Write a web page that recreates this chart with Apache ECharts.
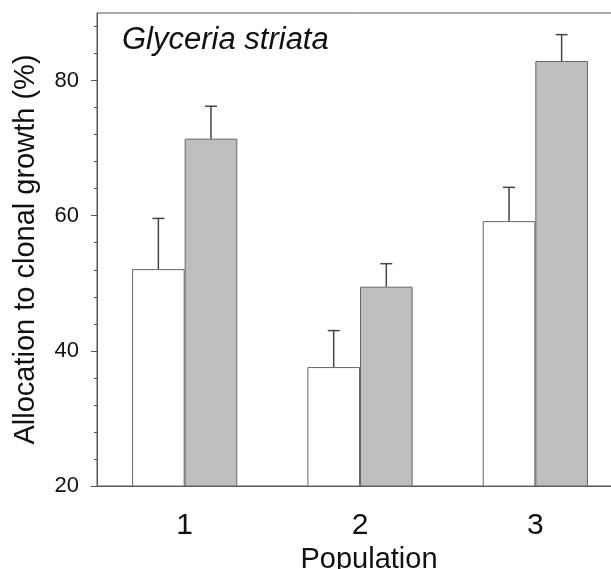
<!DOCTYPE html>
<html>
<head>
<meta charset="utf-8">
<script src="https://cdn.jsdelivr.net/npm/echarts@6/dist/echarts.min.js"></script>
<style>
  html, body { margin: 0; padding: 0; background: #fff; }
  #chart { width: 611px; height: 569px; }
</style>
</head>
<body>
<div id="chart"></div>
<script>
// data
const populations = ['1', '2', '3'];
const openMeans = [52.1, 37.6, 59.2];
const openErr = [7.5, 5.4, 5.0];
const shadedMeans = [71.4, 49.5, 82.9];
const shadedErr = [4.8, 3.4, 3.9];
const yMajorTicks = [20, 40, 60, 80];
const yMinorTicks = [24, 28, 32, 36, 44, 48, 52, 56, 64, 68, 72, 76, 84, 88];

const fontFamily = '"Liberation Sans", Arial, sans-serif';
const lineColor = '#555';

// error bar rows: [category index, mean, err, side]
const errData = [];
populations.forEach(function (p, i) {
    errData.push([i, openMeans[i], openErr[i], -1]);
    errData.push([i, shadedMeans[i], shadedErr[i], 1]);
});

const chart = echarts.init(document.getElementById('chart'));

const option = {
    animation: false,
    title: {
        text: 'Glyceria striata',
        left: 122,
        top: 25,
        padding: 0,
        textStyle: {
            fontFamily: fontFamily,
            fontStyle: 'italic',
            fontWeight: 'normal',
            fontSize: 31,
            color: '#111'
        }
    },
    grid: {
        left: 97,
        top: 13,
        width: 526,
        height: 473,
        outerBoundsMode: 'none',
        show: true,
        borderColor: lineColor,
        borderWidth: 1
    },
    xAxis: {
        type: 'category',
        data: populations,
        name: 'Population',
        nameLocation: 'middle',
        nameGap: 46,
        nameTextStyle: {
            fontFamily: fontFamily,
            fontSize: 29,
            color: '#111',
            padding: [0, 0, 0, 18]
        },
        axisLine: { lineStyle: { color: lineColor, width: 1 } },
        axisTick: { alignWithLabel: true, length: 5, lineStyle: { color: lineColor } },
        axisLabel: {
            margin: 25,
            fontFamily: fontFamily,
            fontSize: 30,
            color: '#111'
        },
        splitLine: { show: false }
    },
    yAxis: [
        {
            type: 'value',
            min: 20,
            max: 90,
            name: 'Allocation to clonal growth (%)',
            nameLocation: 'middle',
            nameGap: 57,
            nameTextStyle: {
                fontFamily: fontFamily,
                fontSize: 29,
                color: '#111'
            },
            axisLine: { show: true, lineStyle: { color: lineColor, width: 1 } },
            axisTick: {
                show: true,
                length: 6,
                customValues: yMajorTicks,
                lineStyle: { color: lineColor }
            },
            axisLabel: {
                margin: 18,
                customValues: yMajorTicks,
                fontFamily: fontFamily,
                fontSize: 22,
                color: '#111'
            },
            splitLine: { show: false }
        },
        {
            // minor ticks only
            type: 'value',
            min: 20,
            max: 90,
            position: 'left',
            axisLine: { show: false },
            axisTick: {
                show: true,
                length: 3,
                customValues: yMinorTicks,
                lineStyle: { color: lineColor }
            },
            axisLabel: { show: false },
            splitLine: { show: false }
        }
    ],
    series: [
        {
            name: 'open',
            type: 'bar',
            data: openMeans,
            barWidth: '30%',
            barGap: '0%',
            itemStyle: { color: '#ffffff', borderColor: '#666', borderWidth: 1 }
        },
        {
            name: 'shaded',
            type: 'bar',
            data: shadedMeans,
            barWidth: '30%',
            barGap: '0%',
            itemStyle: { color: '#bebebe', borderColor: '#666', borderWidth: 1 }
        },
        {
            name: 'error',
            type: 'custom',
            z: 5,
            data: errData,
            renderItem: function (params, api) {
                const idx = api.value(0);
                const mean = api.value(1);
                const err = api.value(2);
                const side = api.value(3);
                const bandW = api.size([1, 0])[0];
                const cx = api.coord([idx, mean])[0] + side * bandW * 0.15;
                const yBase = api.coord([idx, mean])[1];
                const yTop = api.coord([idx, mean + err])[1];
                const cap = 6;
                const style = { stroke: '#444', lineWidth: 1.5 };
                return {
                    type: 'group',
                    children: [
                        { type: 'line', shape: { x1: cx, y1: yBase, x2: cx, y2: yTop }, style: style },
                        { type: 'line', shape: { x1: cx - cap, y1: yTop, x2: cx + cap, y2: yTop }, style: style }
                    ]
                };
            }
        }
    ]
};

chart.setOption(option);
</script>
</body>
</html>
